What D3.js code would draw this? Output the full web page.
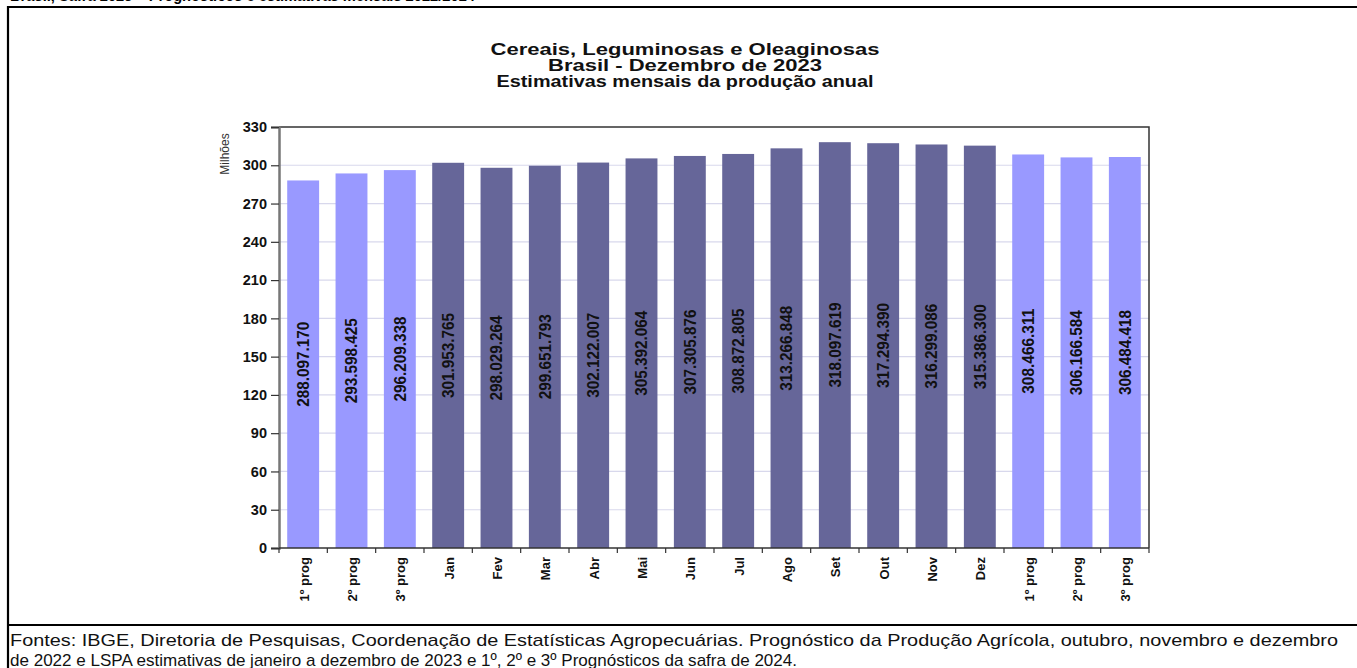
<!DOCTYPE html>
<html>

<head>
    <meta charset="utf-8">
    <script src="https://d3js.org/d3.v7.min.js"></script>
    <style>
        body {
            margin: 0;
            background-color: #ffffff;
        }
    </style>
</head>

<body>
    <svg id="canvas" width="1357" height="668"></svg>
    <script>
        const svg = d3.select('#canvas');
        const WIDTH = 1357;
        const HEIGHT = 668;

        //chart data (tonnes), one bar per estimate
        const categories = ['1º prog', '2º prog', '3º prog', 'Jan', 'Fev', 'Mar', 'Abr', 'Mai', 'Jun', 'Jul',
            'Ago', 'Set', 'Out', 'Nov', 'Dez', '1º prog', '2º prog', '3º prog'];
        const values = [288097170, 293598425, 296209338, 301953765, 298029264, 299651793, 302122007, 305392064,
            307305876, 308872805, 313266848, 318097619, 317294390, 316299086, 315386300, 308466311, 306166584, 306484418];
        //'prog' = prognosis (light bars), 'lspa' = monthly estimate (dark bars)
        const kinds = ['prog', 'prog', 'prog', 'lspa', 'lspa', 'lspa', 'lspa', 'lspa', 'lspa', 'lspa',
            'lspa', 'lspa', 'lspa', 'lspa', 'lspa', 'prog', 'prog', 'prog'];
        const yTicks = [0, 30, 60, 90, 120, 150, 180, 210, 240, 270, 300, 330];

        const titleLines = ['Cereais, Leguminosas e Oleaginosas', 'Brasil - Dezembro de 2023',
            'Estimativas mensais da produção anual'];
        const footerLines = ['Fontes: IBGE, Diretoria de Pesquisas, Coordenação de Estatísticas Agropecuárias. Prognóstico da Produção Agrícola, outubro, novembro e dezembro',
            'de 2022 e LSPA estimativas de janeiro a dezembro de 2023 e 1º, 2º e 3º Prognósticos da safra de 2024.'];

        const COLORS = { prog: '#9999ff', lspa: '#666699' };
        const plot = { left: 279, right: 1149, top: 127, bottom: 548 };

        const x = d3.scaleBand()
            .domain(d3.range(categories.length))
            .range([plot.left, plot.right])
            .paddingInner(0.34)
            .paddingOuter(0.17);

        const y = d3.scaleLinear()
            .domain([0, 330])
            .range([plot.bottom, plot.top]);

        //format like 288.097.170
        const fmt = d => d3.format(',')(d).replace(/,/g, '.');

        //---- page frame (table borders) ----
        //heading of the page above, mostly cut off by the crop
        svg.append('text')
            .attr('x', 10)
            .attr('y', 0.5)
            .attr('font-family', 'Liberation Sans, Arial, sans-serif')
            .attr('font-weight', 'bold')
            .attr('font-size', 17)
            .attr('textLength', 465)
            .attr('lengthAdjust', 'spacingAndGlyphs')
            .attr('fill', '#000')
            .text('Brasil, Safra 2023 – Prognósticos e estimativas mensais 2022/2024');

        const frame = svg.append('g').attr('stroke', '#000').attr('stroke-width', 2.2);
        frame.append('line').attr('x1', 8).attr('y1', 7).attr('x2', WIDTH).attr('y2', 7);
        frame.append('line').attr('x1', 8).attr('y1', 6).attr('x2', 8).attr('y2', HEIGHT);
        frame.append('line').attr('x1', 8).attr('y1', 625).attr('x2', WIDTH).attr('y2', 625);

        //---- titles ----
        const titleWidths = [389, 274, 377];
        svg.append('g')
            .selectAll('text')
            .data(titleLines)
            .join('text')
            .attr('x', 685)
            .attr('y', (d, i) => 54.5 + i * 16.3)
            .attr('text-anchor', 'middle')
            .attr('font-family', 'Liberation Sans, Arial, sans-serif')
            .attr('font-weight', 'bold')
            .attr('font-size', 16.5)
            .attr('textLength', (d, i) => titleWidths[i])
            .attr('lengthAdjust', 'spacingAndGlyphs')
            .attr('fill', '#111')
            .text(d => d);

        //---- gridlines ----
        svg.append('g')
            .selectAll('line')
            .data(yTicks.filter(t => t > 0 && t < 330))
            .join('line')
            .attr('x1', plot.left)
            .attr('x2', plot.right)
            .attr('y1', d => y(d))
            .attr('y2', d => y(d))
            .attr('stroke', '#d8d8ec')
            .attr('stroke-width', 1.2);

        //---- bars ----
        svg.append('g')
            .selectAll('rect')
            .data(values)
            .join('rect')
            .attr('x', (d, i) => x(i))
            .attr('y', d => y(d / 1e6))
            .attr('width', x.bandwidth())
            .attr('height', d => y(0) - y(d / 1e6))
            .attr('fill', (d, i) => COLORS[kinds[i]]);

        //value labels inside bars, rotated, centred on half the bar height
        svg.append('g')
            .selectAll('text')
            .data(values)
            .join('text')
            .attr('transform', (d, i) => `translate(${x(i) + x.bandwidth() / 2},${y(d / 2e6)}) rotate(-90)`)
            .attr('dy', '0.36em')
            .attr('text-anchor', 'middle')
            .attr('font-family', 'Liberation Sans Narrow, Arial Narrow, Liberation Sans, Arial, sans-serif')
            .attr('font-weight', 'bold')
            .attr('font-size', 16)
            .attr('textLength', 85)
            .attr('lengthAdjust', 'spacingAndGlyphs')
            .attr('fill', '#111')
            .text(d => fmt(d));

        //---- plot frame: top and right ----
        svg.append('path')
            .attr('d', `M${plot.left},${plot.top}H${plot.right}V${plot.bottom}`)
            .attr('fill', 'none')
            .attr('stroke', '#333')
            .attr('stroke-width', 1.5);

        //---- y axis ----
        const yAxis = svg.append('g')
            .attr('transform', `translate(${plot.left},0)`)
            .call(d3.axisLeft(y).tickValues(yTicks).tickSize(8).tickPadding(4).tickFormat(d3.format('d')));
        yAxis.select('.domain').attr('stroke', '#777').attr('stroke-width', 2.5);
        yAxis.selectAll('.tick line').attr('stroke', '#333').attr('stroke-width', 1.2);
        yAxis.selectAll('.tick text')
            .attr('font-family', 'Liberation Sans, Arial, sans-serif')
            .attr('font-weight', 'bold')
            .attr('font-size', 14.5)
            .attr('fill', '#111');

        svg.append('text')
            .attr('transform', `translate(225,154) rotate(-90)`)
            .attr('dy', '0.35em')
            .attr('text-anchor', 'middle')
            .attr('font-family', 'Liberation Sans, Arial, sans-serif')
            .attr('font-size', 12)
            .attr('fill', '#333')
            .text('Milhões');

        //---- x axis: ticks at band boundaries ----
        const xAxis = svg.append('g');
        xAxis.append('line')
            .attr('x1', plot.left)
            .attr('x2', plot.right)
            .attr('y1', plot.bottom)
            .attr('y2', plot.bottom)
            .attr('stroke', '#333')
            .attr('stroke-width', 1.5);
        xAxis.selectAll('.xtick')
            .data(d3.range(categories.length + 1))
            .join('line')
            .attr('class', 'xtick')
            .attr('x1', i => plot.left + i * x.step())
            .attr('x2', i => plot.left + i * x.step())
            .attr('y1', plot.bottom)
            .attr('y2', plot.bottom + 5)
            .attr('stroke', '#333')
            .attr('stroke-width', 1.2);

        xAxis.selectAll('.xlabel')
            .data(categories)
            .join('text')
            .attr('class', 'xlabel')
            .attr('transform', (d, i) => `translate(${x(i) + x.bandwidth() / 2 + 1},${plot.bottom + 9}) rotate(-90)`)
            .attr('dy', '0.35em')
            .attr('text-anchor', 'end')
            .attr('font-family', 'Liberation Sans, Arial, sans-serif')
            .attr('font-weight', 'bold')
            .attr('font-size', 13)
            .attr('fill', '#111')
            .text(d => d);

        //---- footer ----
        const footerWidths = [1328, 787];
        svg.append('g')
            .selectAll('text')
            .data(footerLines)
            .join('text')
            .attr('x', 10)
            .attr('y', (d, i) => 646 + i * 20)
            .attr('font-family', 'Liberation Sans Narrow, Arial Narrow, Liberation Sans, Arial, sans-serif')
            .attr('font-size', 17)
            .attr('textLength', (d, i) => footerWidths[i])
            .attr('lengthAdjust', 'spacingAndGlyphs')
            .attr('fill', '#111')
            .text(d => d);
    </script>
</body>

</html>
